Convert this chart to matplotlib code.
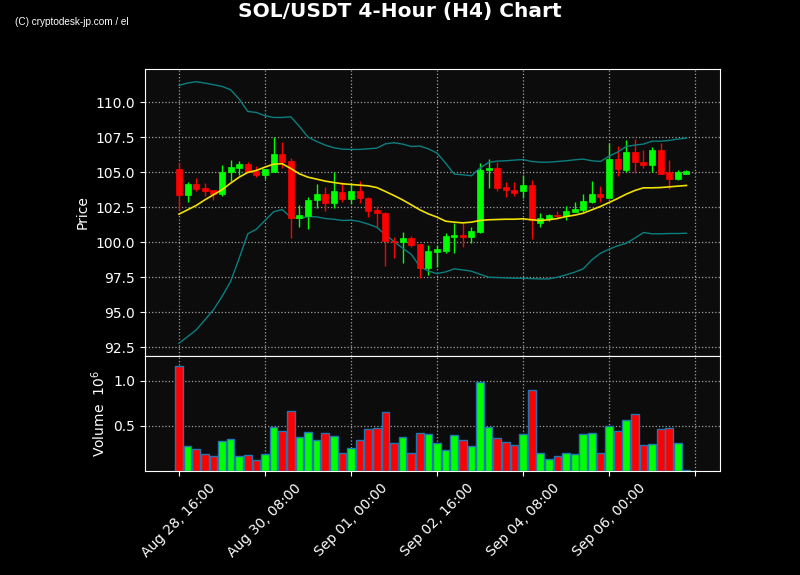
import numpy as np
import matplotlib
matplotlib.use("Agg")
import matplotlib.pyplot as plt

# 4h candles
opens = [105.24, 103.38, 104.17, 103.88, 103.74, 103.45, 104.98, 105.33, 105.60, 105.10,
         104.83, 105.02, 106.31, 105.81, 101.74, 101.90, 102.98, 103.43, 102.83, 103.60,
         103.05, 103.67, 103.17, 102.31, 102.10, 100.10, 99.98, 100.31, 99.88, 98.14,
         99.33, 99.40, 100.40, 100.52, 100.36, 100.76, 105.12, 105.31, 103.95, 103.74,
         103.62, 104.10, 101.40, 101.67, 101.93, 101.90, 102.19, 102.31, 102.90, 103.45,
         103.14, 105.95, 105.17, 106.45, 105.74, 105.48, 106.60, 104.98, 104.48, 104.90]
highs = [105.71, 104.33, 104.57, 104.21, 103.76, 105.52, 105.86, 105.79, 105.71, 105.45,
         105.24, 107.48, 107.14, 106.00, 102.62, 103.19, 104.14, 103.93, 105.00, 104.31,
         104.21, 104.36, 103.24, 102.55, 102.12, 100.36, 100.71, 100.45, 99.90, 99.79,
         99.81, 100.64, 101.36, 101.36, 101.12, 105.64, 105.93, 105.69, 104.33, 104.33,
         104.79, 104.45, 102.07, 102.00, 102.21, 102.60, 102.86, 103.43, 104.36, 104.02,
         107.07, 106.88, 107.31, 107.36, 106.55, 106.81, 107.07, 105.86, 105.17, 105.12]
lows = [102.31, 102.86, 103.62, 103.29, 102.98, 103.33, 104.38, 104.79, 104.98, 104.62,
        104.48, 104.98, 105.29, 100.29, 101.12, 100.95, 102.43, 102.24, 102.43, 102.88,
        102.71, 102.81, 101.79, 101.07, 98.33, 98.90, 98.50, 99.69, 97.43, 97.64,
        98.21, 99.21, 99.21, 99.69, 99.93, 100.64, 103.86, 103.67, 103.21, 103.31,
        103.17, 100.21, 101.07, 101.48, 101.64, 101.55, 102.17, 102.19, 102.79, 102.90,
        103.12, 104.69, 104.98, 104.93, 105.29, 104.98, 104.88, 103.81, 104.46, 104.88]
closes = [103.38, 104.17, 103.81, 103.67, 103.45, 105.02, 105.38, 105.60, 105.00, 104.83,
          105.19, 106.31, 105.74, 101.71, 101.95, 103.02, 103.43, 102.83, 103.67, 103.05,
          103.67, 103.12, 102.26, 102.05, 100.05, 99.98, 100.31, 99.83, 98.14, 99.38,
          99.50, 100.45, 100.52, 100.40, 100.81, 105.17, 105.29, 103.90, 103.69, 103.52,
          104.10, 101.60, 101.74, 101.95, 101.86, 102.24, 102.38, 102.95, 103.45, 103.19,
          105.95, 105.19, 106.45, 105.74, 105.48, 106.60, 104.90, 104.48, 104.98, 105.10]

# volume in units of 1e6
volumes = [1.163, 0.274, 0.241, 0.185, 0.167, 0.330, 0.352, 0.163, 0.174, 0.119,
           0.185, 0.485, 0.441, 0.663, 0.374, 0.430, 0.341, 0.419, 0.385, 0.196,
           0.252, 0.344, 0.463, 0.478, 0.652, 0.307, 0.374, 0.196, 0.419, 0.407,
           0.307, 0.230, 0.396, 0.341, 0.274, 0.985, 0.485, 0.363, 0.319, 0.285,
           0.407, 0.896, 0.196, 0.130, 0.163, 0.196, 0.185, 0.407, 0.419, 0.196,
           0.496, 0.441, 0.563, 0.630, 0.285, 0.296, 0.463, 0.474, 0.307, 0.007]

# bollinger bands (20, 2) as drawn
bb_upper = [111.19, 111.36, 111.45, 111.36, 111.24, 111.12, 110.88, 110.21, 109.33, 109.26,
            109.02, 108.90, 108.90, 108.95, 108.26, 107.50, 107.19, 106.93, 106.74, 106.64,
            106.62, 106.62, 106.67, 106.71, 107.02, 107.10, 107.00, 106.83, 106.86, 106.66,
            106.36, 105.64, 104.86, 104.81, 104.74, 105.29, 105.69, 105.79, 105.81, 105.86,
            105.90, 105.76, 105.71, 105.71, 105.76, 105.81, 105.88, 105.93, 105.81, 105.76,
            106.14, 106.43, 106.83, 106.93, 107.00, 107.21, 107.21, 107.26, 107.36, 107.43]
bb_mid = [102.00, 102.31, 102.62, 103.02, 103.38, 103.74, 104.21, 104.64, 104.98, 105.12,
          105.36, 105.57, 105.60, 105.26, 104.88, 104.64, 104.50, 104.36, 104.26, 104.17,
          104.12, 104.07, 104.02, 103.90, 103.62, 103.33, 103.02, 102.67, 102.31, 102.02,
          101.79, 101.50, 101.43, 101.38, 101.43, 101.55, 101.60, 101.62, 101.64, 101.64,
          101.67, 101.60, 101.55, 101.60, 101.69, 101.83, 101.93, 102.07, 102.31, 102.55,
          102.83, 103.12, 103.43, 103.69, 103.88, 103.88, 103.90, 103.95, 104.00, 104.05]
bb_lower = [92.79, 93.26, 93.74, 94.45, 95.17, 96.12, 97.19, 98.86, 100.60, 100.93,
            101.55, 102.17, 102.33, 101.79, 101.69, 101.83, 101.81, 101.69, 101.64, 101.55,
            101.57, 101.48, 101.29, 101.07, 100.52, 100.05, 99.57, 99.14, 98.26, 97.94,
            97.76, 97.88, 98.10, 98.02, 97.93, 97.71, 97.50, 97.48, 97.45, 97.43,
            97.43, 97.40, 97.38, 97.38, 97.50, 97.67, 97.86, 98.10, 98.74, 99.21,
            99.50, 99.74, 99.93, 100.29, 100.69, 100.60, 100.60, 100.62, 100.62, 100.64]

tick_pos = [0, 10, 20, 30, 40, 50, 60]
tick_labels = ['Aug 28, 16:00', 'Aug 30, 08:00', 'Sep 01, 00:00', 'Sep 02, 16:00',
               'Sep 04, 08:00', 'Sep 06, 00:00', '']

UP = '#00ff00'
DOWN = '#ff0000'
BG = '#0c0c0c'
GRID = '#a0a0a0'

o = np.array(opens)
c = np.array(closes)
x = np.arange(len(o))
cols = [UP if cc >= oo else DOWN for oo, cc in zip(o, c)]

fig = plt.figure(figsize=(8, 5.75), dpi=100, facecolor='black')
ax1 = fig.add_axes([0.18125, 0.3809, 0.71875, 0.4991])
ax2 = fig.add_axes([0.18125, 0.1809, 0.71875, 0.2], sharex=ax1)

for ax in (ax1, ax2):
    ax.set_facecolor(BG)
    for s in ax.spines.values():
        s.set_color('white')
    ax.tick_params(colors='white', labelsize=10)
    ax.grid(True, color=GRID, linestyle=':', linewidth=0.9)
    ax.set_axisbelow(True)

# candles
ax1.vlines(x, lows, highs, colors=cols, linewidth=1, zorder=2)
body = np.maximum(np.abs(c - o), 0.04)
ax1.bar(x, body, bottom=np.minimum(o, c), width=0.7, color=cols, edgecolor=cols,
        linewidth=0.5, zorder=3)

ax1.plot(x, bb_upper, color='#0b7e80', linewidth=1, zorder=2)
ax1.plot(x, bb_lower, color='#0b7e80', linewidth=1, zorder=2)
ax1.plot(x, bb_mid, color='#f0e000', linewidth=1.2, zorder=4)

ax1.set_ylim(91.88, 112.36)
ax1.set_yticks([92.5, 95.0, 97.5, 100.0, 102.5, 105.0, 107.5, 110.0])
ax1.set_ylabel('Price', color='white', fontsize=10)
ax1.tick_params(axis='x', labelbottom=False)

# volume
ax2.bar(x, volumes, width=0.9, color=cols, edgecolor='#1f77b4', linewidth=1, zorder=3)
ax2.set_ylim(0, 1.278)
ax2.set_yticks([0.5, 1.0])
ax2.set_ylabel('Volume  $10^{6}$', color='white', fontsize=10)

ax2.set_xlim(-3.95, 62.9)
ax2.set_xticks(tick_pos)
ax2.set_xticklabels(tick_labels, rotation=45, ha='center')

fig.text(0.5, 0.980, 'SOL/USDT 4-Hour (H4) Chart', color='white', fontsize=14.5,
         fontweight='bold', ha='center', va='center')
fig.text(0.019, 0.962, '(C) cryptodesk-jp.com / el', color='white', fontsize=7.2,
         family=['Liberation Sans Narrow', 'Liberation Sans', 'DejaVu Sans'],
         ha='left', va='center')

fig.savefig('out.png', dpi=100, facecolor='black')
